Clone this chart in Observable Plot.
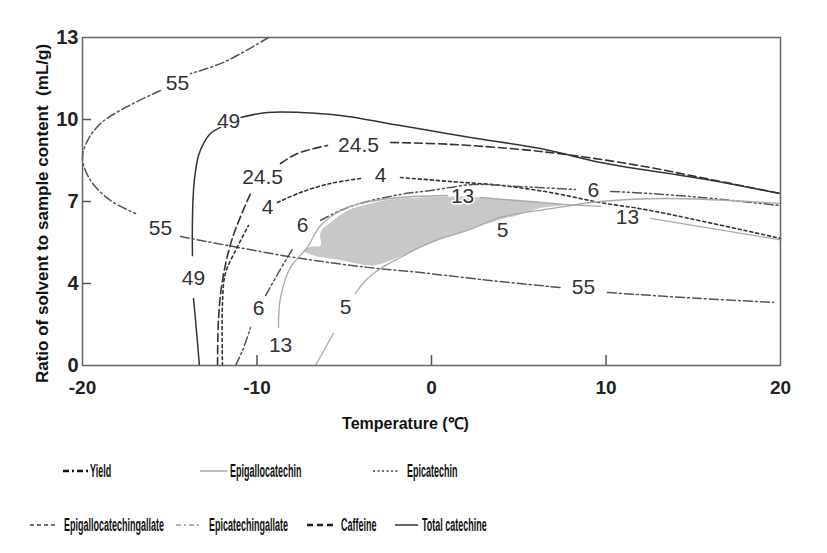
<!DOCTYPE html>
<html><head><meta charset="utf-8">
<script src="https://cdn.jsdelivr.net/npm/d3@7"></script>
<script src="https://cdn.jsdelivr.net/npm/@observablehq/plot@0.6"></script>
<style>
body{margin:0;background:#fff;}
#wrap{position:relative;width:827px;height:553px;background:#fff;font-family:"Liberation Sans",Arial,sans-serif;overflow:hidden;}
#legend{position:absolute;left:0;top:440px;width:827px;height:113px;}
.ls{position:absolute;}
.lt{position:absolute;font-weight:bold;font-size:18px;line-height:20px;transform-origin:0 50%;transform:scaleX(0.5);white-space:nowrap;color:#111;}
</style></head>
<body><div id="wrap"><div id="chart"></div><div id="legend"></div></div>
<script>
// ---------- data ----------
const xTicks = [-20, -10, 0, 10, 20];
const yTicks = [1, 4, 7, 10, 13];
const yTickLabels = ["0", "4", "7", "10", "13"];
const xInnerTicks = [-10, 0, 10];
const yInnerTicks = [4, 7, 10];
const xTitle = "Temperature (℃)";
const yTitle = "Ratio of solvent to sample content  (mL/g)";

// contour polylines [temperature, ratio]; null = break where a contour label sits
const yieldPts = [[-9.34,13.0],[-11.92,12.09],[-13.81,11.68],null,[-15.53,11.06],[-17.65,10.40],[-18.97,9.85],[-19.71,9.23],[-20.0,8.57],[-19.54,7.77],[-18.40,7.04],[-16.96,6.56],null,[-14.38,5.72],[-11.35,5.35],[-7.51,4.92],[-3.67,4.59],[-0.63,4.40],[2.81,4.15],[7.39,3.85],null,[10.09,3.67],[15.42,3.45],[19.60,3.31]];
const totalPts = [[-13.30,1.0],[-13.47,2.28],[-13.64,3.45],null,[-13.70,5.02],[-13.70,6.31],[-13.64,7.40],[-13.52,8.13],[-13.35,8.68],[-13.07,9.12],[-12.66,9.49],[-12.09,9.71],null,[-10.95,10.07],[-9.40,10.26],[-7.51,10.26],[-5.21,10.15],[-1.78,9.78],[2.23,9.34],[6.25,8.94],[9.68,8.43],[15.42,7.84],[20.0,7.29]];
const caffeinePts = [[-12.26,1.0],[-12.21,2.65],[-11.98,4.11],[-11.40,5.68],[-10.37,7.29],null,[-8.65,8.39],[-7.68,8.76],[-5.96,9.05],null,[-2.35,9.16],[1.09,9.09],[6.25,8.83],[11.58,8.35],[15.42,7.88],[20.0,7.29]];
const epicatechinPts = [[-11.98,1.0],[-11.98,3.27],[-11.81,4.37],[-11.17,5.28],[-10.49,6.12],null,[-8.83,6.96],[-7.51,7.33],[-5.79,7.66],[-4.07,7.84],null,[-1.78,7.88],[1.09,7.73],[3.95,7.59],[6.82,7.33],[9.68,6.96],[12.55,6.67],[20.0,5.65]];
const ecgPts = [[-11.23,1.0],[-10.83,1.55],[-10.37,2.39],null,[-9.51,3.56],[-8.77,4.40],[-7.91,5.32],null,[-6.36,6.31],[-5.21,6.67],[-4.07,6.93],[-1.78,7.26],[-0.06,7.40],[2.41,7.62],[4.93,7.55],[8.25,7.44],null,[10.26,7.37],[12.55,7.29],[15.42,7.15],[20.0,6.85]];
const egc13Pts = [[-8.77,2.39],[-8.65,3.49],[-8.08,4.59],[-7.11,5.32],[-6.36,6.12],[-4.81,6.78],[-2.35,7.11],[0.92,7.22],null,[2.81,7.15],[6.82,6.93],[9.68,6.82],null,[12.55,6.38],[20.0,5.60]];
const egc5Pts = [[-6.65,1.0],[-5.62,2.17],null,[-4.36,3.63],[-3.78,4.11],[-2.92,4.55],[-1.78,4.95],[-1.03,5.21],[0.52,5.65],[2.06,5.94],[3.95,6.42],[6.82,6.74],[9.68,7.00],[13.52,7.11],[20.0,6.93]];
// shaded optimum region
const regionPts = [[-6.36,5.87],[-5.79,6.23],[-4.81,6.67],[-3.50,6.93],[-2.35,7.07],[-0.63,7.15],[1.49,7.18],[3.95,7.11],[6.25,7.00],[7.68,6.89],[6.25,6.76],[4.93,6.50],[3.95,6.34],[2.23,5.98],[0.52,5.61],[-1.03,5.21],[-2.35,4.84],[-3.32,4.66],[-5.21,4.85],[-6.93,5.06],[-7.34,5.21],[-6.82,5.35],[-6.36,5.39]];

// contour labels
const contourLabelText = ["55","55","55","49","49","24.5","24.5","4","4","6","6","6","13","13","13","5","5"];
const contourLabelX = [-14.56,-15.53,8.71,-11.63,-13.64,-9.68,-4.18,-9.40,-2.92,-9.91,-7.39,9.28,-8.65,1.78,11.23,-4.93,4.07];
const contourLabelY = [11.32,6.01,3.85,9.93,4.18,7.88,9.05,6.78,7.95,3.09,6.12,7.40,1.73,7.18,6.42,3.12,5.94];

const legendLabels = ["Yield","Epigallocatechin","Epicatechin","Epigallocatechingallate","Epicatechingallate","Caffeine","Total catechine"];

// ---------- styles ----------
const curveStyles = [
  {pts: yieldPts, stroke: "#555", width: 1.5, dash: "9,3,2,3"},
  {pts: totalPts, stroke: "#333", width: 1.5, dash: null},
  {pts: caffeinePts, stroke: "#333", width: 1.6, dash: "8,4"},
  {pts: epicatechinPts, stroke: "#333", width: 1.6, dash: "3,3"},
  {pts: ecgPts, stroke: "#555", width: 1.5, dash: "9,3,2,3,2,3"},
  {pts: egc13Pts, stroke: "#aaa", width: 1.3, dash: null},
  {pts: egc5Pts, stroke: "#aaa", width: 1.3, dash: null}
];
const toRows = pts => pts.map(p => p ? {x: p[0], y: p[1]} : {x: NaN, y: NaN});
const labelRows = contourLabelText.map((t, i) => ({text: t, x: contourLabelX[i], y: contourLabelY[i]}));

const marks = [
  Plot.line(toRows(regionPts), {x: "x", y: "y", fill: "#c8c8c8", stroke: "none", curve: "catmull-rom-closed"})
];
for (const c of curveStyles) {
  marks.push(Plot.line(toRows(c.pts), {x: "x", y: "y", stroke: c.stroke, strokeWidth: c.width, strokeDasharray: c.dash || undefined, curve: "catmull-rom"}));
}
marks.push(
  Plot.text(labelRows, {x: "x", y: "y", text: "text", fontSize: 21, fill: "#333", stroke: "white", strokeWidth: 3, paintOrder: "stroke", textAnchor: "middle", lineAnchor: "middle", ariaLabel: "contour-label"}),
  Plot.tickX(xInnerTicks, {x: d => d, insetTop: 318, stroke: "#555", strokeWidth: 1.5}),
  Plot.tickY(yInnerTicks, {y: d => d, insetRight: 689, stroke: "#555", strokeWidth: 1.5}),
  Plot.frame({stroke: "#666", strokeWidth: 1.5}),
  Plot.axisX(xTicks, {tickSize: 0, tickPadding: 15, fontSize: 19, fontWeight: "bold", fill: "#222", label: null,
    tickFormat: d => String(d)}),
  Plot.axisY(yTicks, {tickSize: 0, tickPadding: 4, fontSize: 20, fontWeight: "bold", fill: "#222", label: null,
    tickFormat: d => yTickLabels[yTicks.indexOf(d)]}),
  Plot.text([xTitle], {frameAnchor: "bottom", dx: -26, dy: 58, fontSize: 16, fontWeight: "bold", fill: "#111", textAnchor: "middle", lineAnchor: "middle", ariaLabel: "x-title"}),
  Plot.text([yTitle], {frameAnchor: "left", rotate: -90, dx: -40, dy: 12, fontSize: 17, fontWeight: "bold", fill: "#111", textAnchor: "middle", lineAnchor: "middle", ariaLabel: "y-title"})
);

const chart = Plot.plot({
  width: 827, height: 440,
  marginLeft: 82, marginRight: 47, marginTop: 37, marginBottom: 75,
  x: {domain: [-20, 20]},
  y: {domain: [1, 13]},
  style: {background: "white", fontFamily: "'Liberation Sans', Arial, sans-serif", overflow: "visible"},
  marks
});
document.getElementById("chart").appendChild(chart);

// horizontally condensed lettering as in the reference
d3.select(chart).selectAll('g[aria-label="contour-label"] text').each(function() {
  this.setAttribute("transform", (this.getAttribute("transform") || "") + " scale(0.78,1)");
});
d3.select(chart).selectAll('g[aria-label="x-title"] text').each(function() {
  this.setAttribute("transform", (this.getAttribute("transform") || "") + " scale(0.74,1)");
});
d3.select(chart).selectAll('g[aria-label="y-title"] text').style("letter-spacing", "0.7px");

// ---------- legend ----------
const legendLayout = [
  {row: 0, s0: 63, s1: 88, tx: 90, stroke: "#111", width: 2.6, dash: "6,3,2,3"},
  {row: 0, s0: 200, s1: 227, tx: 230, stroke: "#aaa", width: 1.6, dash: null},
  {row: 0, s0: 373, s1: 400, tx: 407, stroke: "#444", width: 1.6, dash: "2,2.5"},
  {row: 1, s0: 30, s1: 58, tx: 64, stroke: "#444", width: 1.6, dash: "4,3"},
  {row: 1, s0: 176, s1: 200, tx: 209, stroke: "#999", width: 1.6, dash: "5,3,2,3"},
  {row: 1, s0: 307, s1: 333, tx: 341, stroke: "#222", width: 2.6, dash: "6,4"},
  {row: 1, s0: 395, s1: 418, tx: 422, stroke: "#666", width: 2, dash: null}
];
const rowY = [31, 85];
const legend = d3.select("#legend");
legendLabels.forEach((name, i) => {
  const L = legendLayout[i];
  const y = rowY[L.row];
  const s = legend.append("svg").attr("class", "ls")
    .style("left", L.s0 + "px").style("top", (y - 5) + "px")
    .attr("width", L.s1 - L.s0).attr("height", 10);
  s.append("line").attr("x1", 0).attr("x2", L.s1 - L.s0).attr("y1", 5).attr("y2", 5)
    .attr("stroke", L.stroke).attr("stroke-width", L.width)
    .attr("stroke-dasharray", L.dash);
  legend.append("div").attr("class", "lt")
    .style("left", L.tx + "px").style("top", (y - 10) + "px").text(name);
});
</script></body></html>
